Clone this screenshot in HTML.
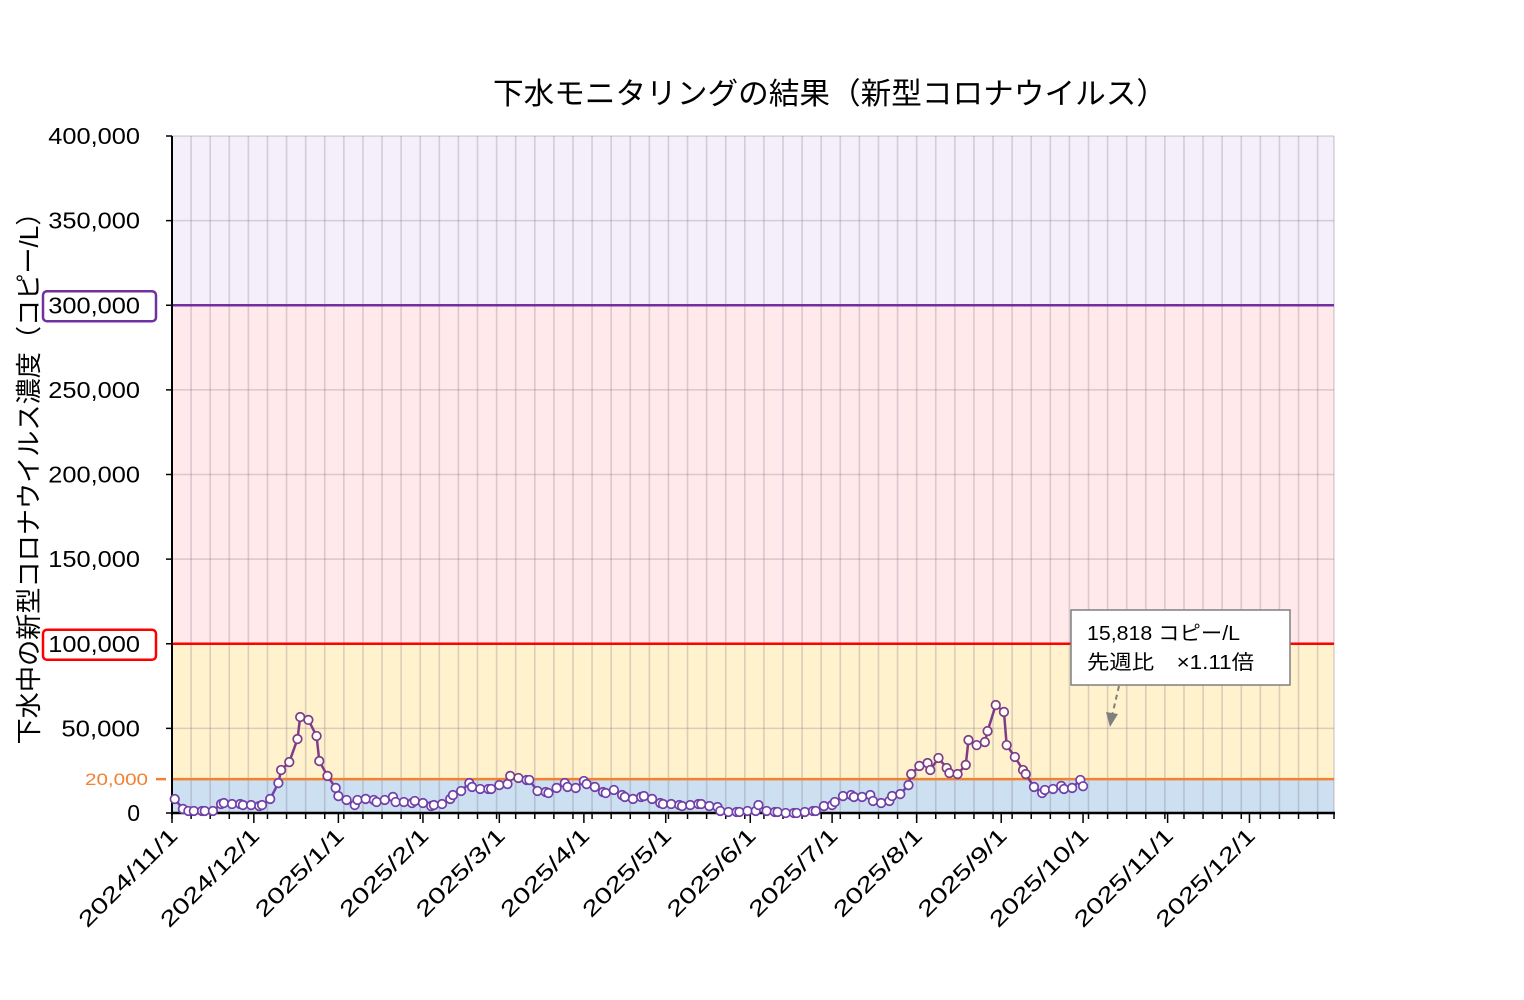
<!DOCTYPE html>
<html><head><meta charset="utf-8"><style>
body{margin:0;background:#fff;font-family:"Liberation Sans","Noto Sans CJK JP",sans-serif;}
svg text{font-family:"Liberation Sans","Noto Sans CJK JP",sans-serif;}
</style></head><body>
<svg id="chart" width="1524" height="995" xmlns="http://www.w3.org/2000/svg">
<text x="830" y="104" font-size="30" text-anchor="middle" textLength="674" lengthAdjust="spacingAndGlyphs">下水モニタリングの結果（新型コロナウイルス）</text>
<text transform="translate(38,472) rotate(-90)" font-size="26" text-anchor="middle" textLength="545" lengthAdjust="spacingAndGlyphs">下水中の新型コロナウイルス濃度（コピー/L）</text>
<g id="plot"></g>
</svg>
<script>
const dayOffsets=[1,4,6,8,11,12,15,18,19,22,25,26,29,32,33,36,39,40,43,46,47,50,53,54,57,60,61,64,67,68,71,74,75,78,81,82,85,88,89,92,95,96,99,102,103,106,109,110,113,116,117,120,123,124,127,130,131,134,137,138,141,144,145,148,151,152,155,158,159,162,165,166,169,172,173,176,179,180,183,186,187,190,193,194,197,200,201,204,207,208,211,214,215,218,221,222,225,228,229,232,235,236,239,242,243,246,249,250,253,256,257,260,263,264,267,270,271,274,277,278,281,284,285,288,291,292,295,298,299,302,305,306,309,312,313,316,319,320,323,326,327,330,333,334];
const values=[8270,2400,1200,1200,1200,1200,1200,5300,5900,5300,5300,4700,4700,4100,4700,8300,17700,25400,30100,43700,56700,55000,45500,30700,21900,14800,10000,7700,4700,7700,8300,7700,6500,7700,9500,6500,6500,5900,7100,5900,4100,4700,5300,8300,10600,13000,17700,15400,14200,14200,14200,16500,17100,21900,20700,19500,19500,13000,12400,11800,14800,17700,15400,14800,18900,17100,15400,12400,11800,13600,10600,9500,8300,9500,10000,8300,5900,5300,5300,4700,4100,4700,5300,5300,4100,3500,1200,600,600,600,1200,1200,4700,1200,600,600,0,0,0,600,1200,1200,4100,4700,6500,10000,10600,9500,9500,10600,7100,5900,7100,10000,11200,16500,23000,27800,29500,25400,32500,26600,23600,23000,28400,43100,40100,41900,48400,63800,59700,40100,33100,25400,23000,15400,11800,13600,14200,16000,14200,14800,19500,15818];
const yTicks=[0,50000,100000,150000,200000,250000,300000,350000,400000];
const yTickLabels=["0","50,000","100,000","150,000","200,000","250,000","300,000","350,000","400,000"];
const monthDays=[0,30,61,92,120,151,181,212,242,273,304,334,365,395];
const monthLabels=["2024/11/1","2024/12/1","2025/1/1","2025/2/1","2025/3/1","2025/4/1","2025/5/1","2025/6/1","2025/7/1","2025/8/1","2025/9/1","2025/10/1","2025/11/1","2025/12/1"];
const totalDays=426;
const X0=172,X1=1334,Y0=813,Y1=136;
const x=d=>X0+(X1-X0)*d/totalDays;
const y=v=>Y0-(Y0-Y1)*v/400000;
const NS="http://www.w3.org/2000/svg";
const g=document.getElementById('plot');
function mk(tag,attrs,parent){const e=document.createElementNS(NS,tag);for(const k in attrs)e.setAttribute(k,attrs[k]);(parent||g).appendChild(e);return e;}
const bands=[[0,20000,'#cce0f1'],[20000,100000,'#fff2cd'],[100000,300000,'#ffe9eb'],[300000,400000,'#f4effa']];
bands.forEach(b=>{const r=mk('rect',{x:X0,y:y(b[1]),width:X1-X0,height:y(b[0])-y(b[1]),fill:b[2]});

});
for(let d=7;d<totalDays;d+=7){const l=mk('line',{x1:x(d),x2:x(d),y1:Y1,y2:Y0,stroke:'rgba(110,100,120,0.25)','stroke-width':1.6});

}
mk('line',{x1:X1,x2:X1,y1:Y1,y2:Y0,stroke:'rgba(110,100,120,0.25)','stroke-width':1.6});
yTicks.forEach((v,i)=>{
 if(v>0){const l=mk('line',{x1:X0,x2:X1,y1:y(v),y2:y(v),stroke:'rgba(110,100,120,0.25)','stroke-width':1.6});
 
 }
 const lab=yTickLabels[i];
 const attrs={x:140,y:y(v)+8,'font-size':23,'text-anchor':'end',fill:'#000'};
 if(lab.length>1){attrs.textLength=lab.length*13.1;attrs.lengthAdjust='spacingAndGlyphs';}
 const t=mk('text',attrs);
 t.textContent=lab;
 
 
 mk('line',{x1:X0-6,x2:X0,y1:y(v),y2:y(v),stroke:'#000','stroke-width':1.5});
});
[[20000,'#f08232'],[100000,'#ff0000'],[300000,'#7030a0']].forEach(t=>{const l=mk('line',{x1:X0,x2:X1,y1:y(t[0]),y2:y(t[0]),stroke:t[1],'stroke-width':2.5});

});
const b1=mk('rect',{x:43,y:y(300000)-14,width:113,height:30,rx:4,fill:'none',stroke:'#7030a0','stroke-width':2.5});


const b2=mk('rect',{x:43,y:y(100000)-14,width:113,height:30,rx:4,fill:'none',stroke:'#ff0000','stroke-width':2.5});


const t20=mk('text',{x:148,y:y(20000)+6,'font-size':17,'text-anchor':'end',fill:'#f08232',textLength:63,lengthAdjust:'spacingAndGlyphs'});
t20.textContent='20,000';


mk('line',{x1:X0-16,x2:X0-6,y1:y(20000),y2:y(20000),stroke:'#f08232','stroke-width':2.5});
mk('line',{x1:X0,x2:X0,y1:Y1,y2:Y0+2,stroke:'#000','stroke-width':2});
mk('line',{x1:X0,x2:X1+1,y1:Y0,y2:Y0,stroke:'#000','stroke-width':2.5});
for(let d=0;d<=totalDays;d+=7){mk('line',{x1:x(d),x2:x(d),y1:Y0,y2:Y0+6,stroke:'#000','stroke-width':1.5});}
mk('line',{x1:X1,x2:X1,y1:Y0,y2:Y0+6,stroke:'#000','stroke-width':1.5});
monthDays.forEach((d,i)=>{mk('line',{x1:x(d),x2:x(d),y1:Y0,y2:Y0+10,stroke:'#000','stroke-width':1.5});
 if(i<monthLabels.length){const lab=monthLabels[i];
 const t=mk('text',{transform:`translate(${x(d)+7},${Y0+24}) rotate(-45)`,'font-size':22,'text-anchor':'end',fill:'#000',textLength:lab.length*14.4,lengthAdjust:'spacingAndGlyphs'});
 t.textContent=lab;
 
 }
});
for(let i=1;i<values.length;i++){
 const hi=values[i]>20000||values[i-1]>20000;
 const s=mk('line',{x1:x(dayOffsets[i-1]),y1:y(values[i-1]),x2:x(dayOffsets[i]),y2:y(values[i]),stroke:hi?'#7e3c86':'#7040a8','stroke-width':2.5});
 
 
}
values.forEach((v,i)=>{const c=mk('circle',{cx:x(dayOffsets[i]),cy:y(v),r:4.3,fill:'#fff',stroke:v>20000?'#7e3c86':'#7040a8','stroke-width':1.7});

});
const ann=mk('g',{});


mk('rect',{x:1071,y:610,width:219,height:75,fill:'#fff',stroke:'#7f7f7f','stroke-width':1.5},ann);
const a1=mk('text',{x:1087,y:640,'font-size':20,fill:'#000',textLength:153,lengthAdjust:'spacingAndGlyphs'},ann);a1.textContent='15,818 コピー/L';
const a2=mk('text',{x:1087,y:669,'font-size':20,fill:'#000',textLength:167,lengthAdjust:'spacingAndGlyphs'},ann);a2.textContent='先週比　×1.11倍';
mk('line',{x1:1119,y1:686,x2:1112,y2:716,stroke:'#808080','stroke-width':2,'stroke-dasharray':'5,4'},ann);
mk('path',{d:'M1106,712 L1110,727 L1118,714 Z',fill:'#808080'},ann);
</script>
</body></html>
